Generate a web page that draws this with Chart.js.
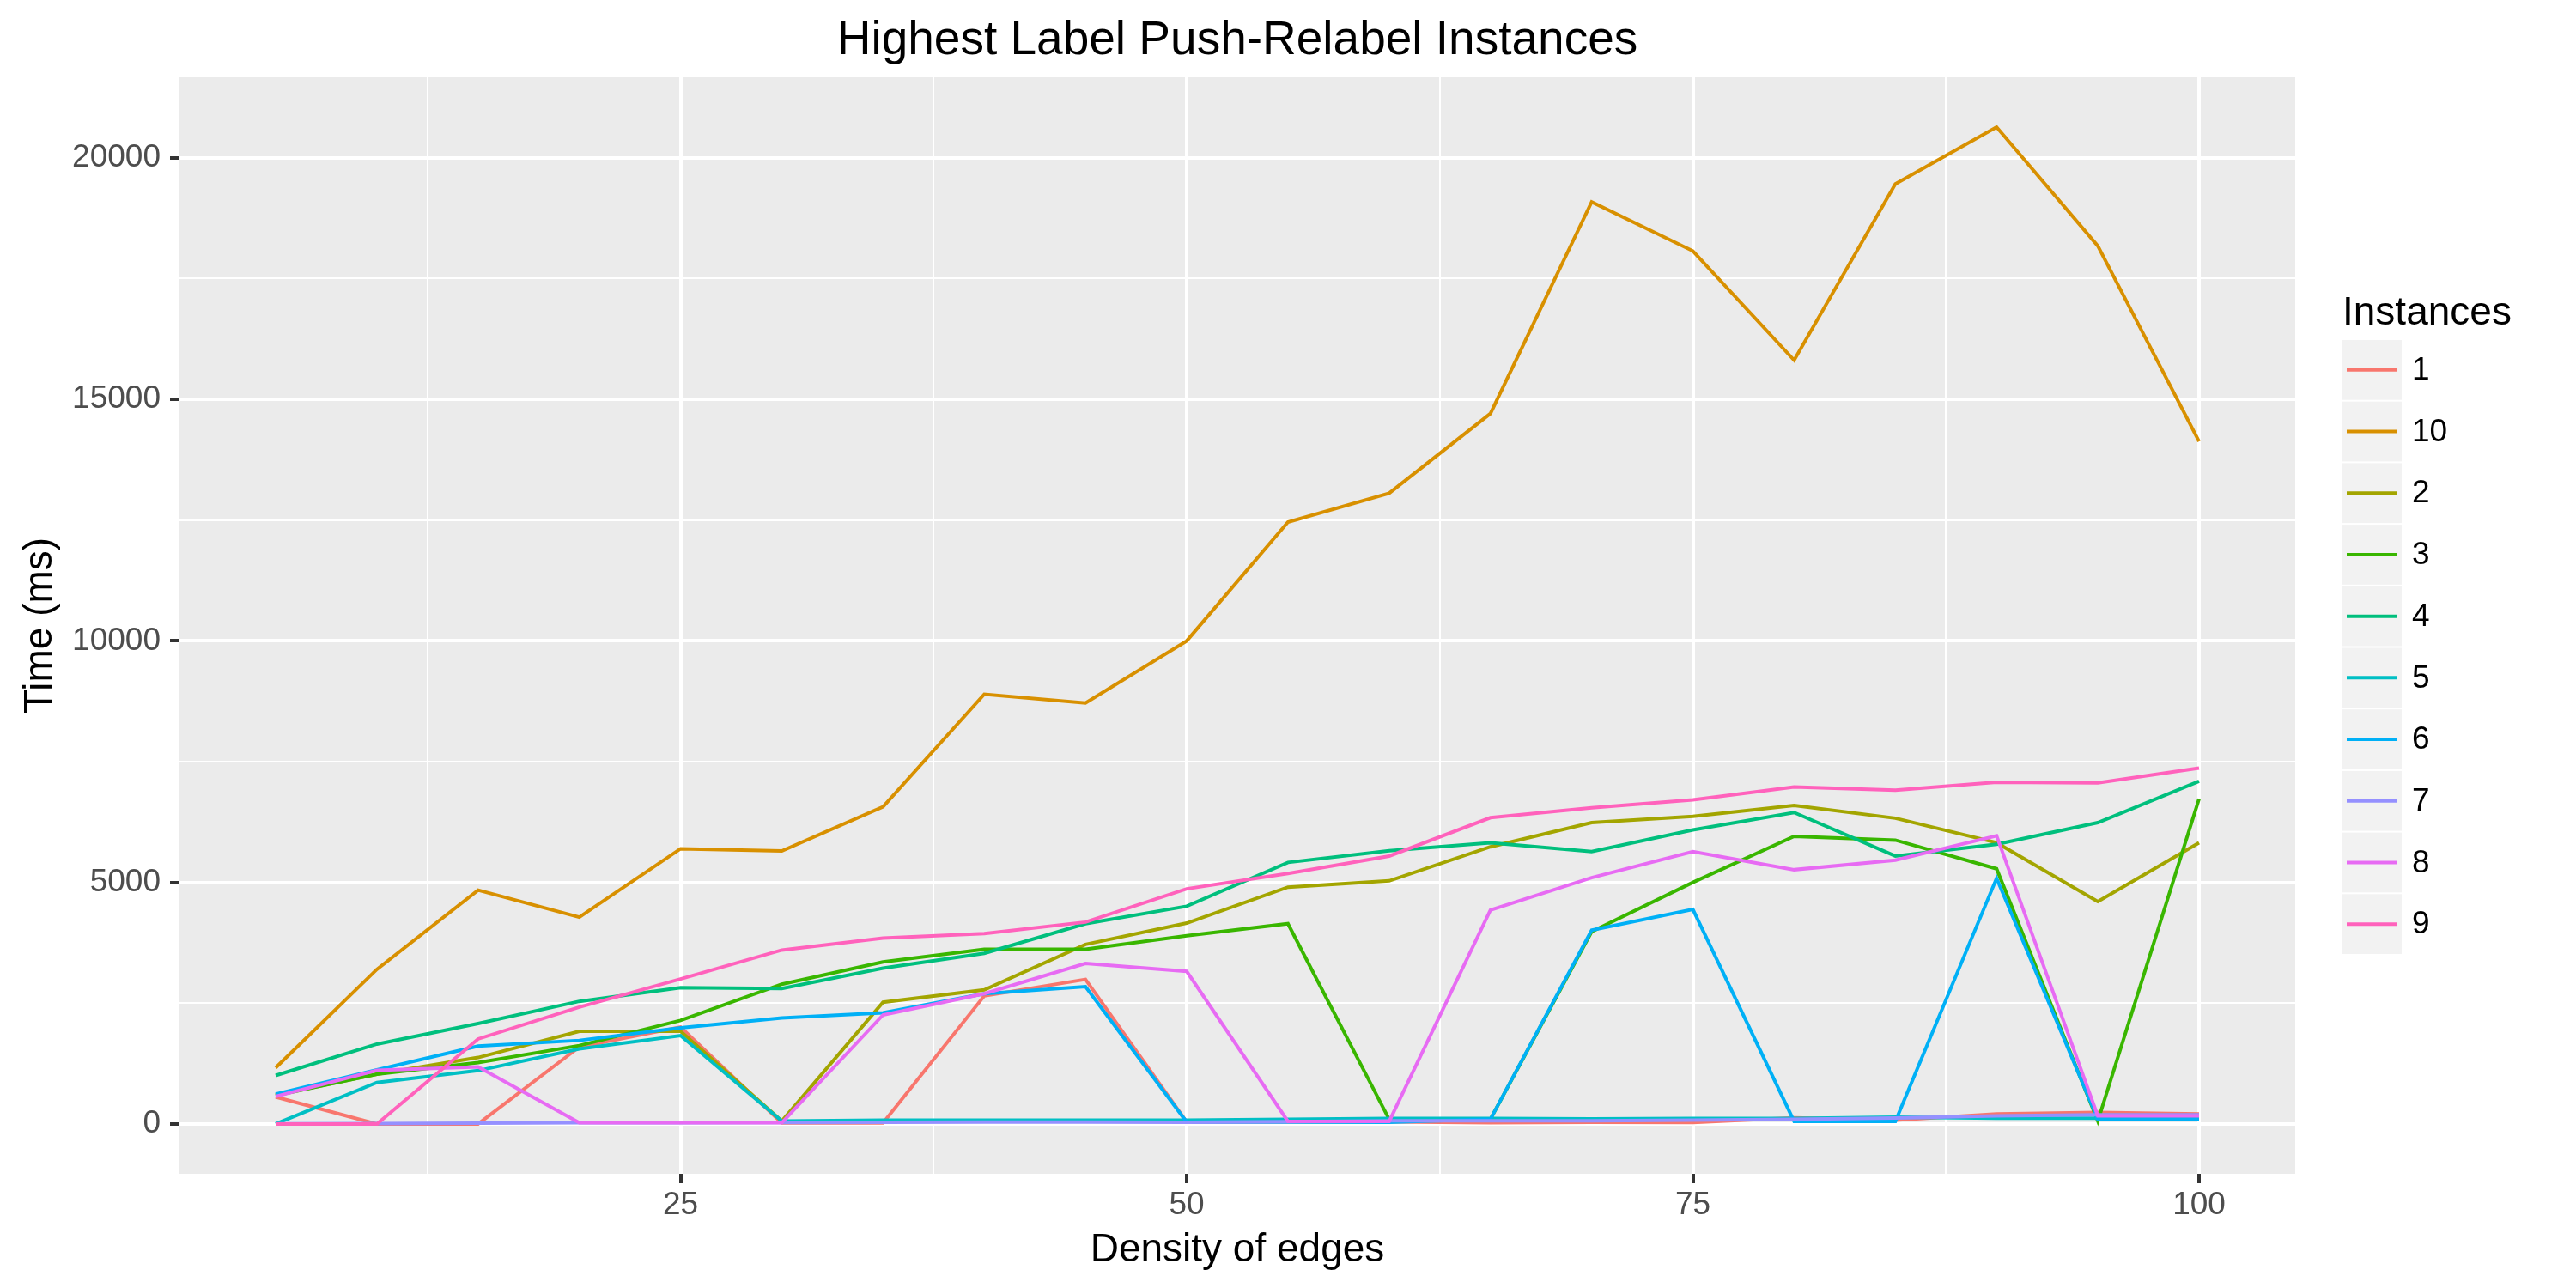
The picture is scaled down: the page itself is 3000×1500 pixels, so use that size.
<!DOCTYPE html>
<html>
<head>
<meta charset="utf-8">
<script src="https://cdn.jsdelivr.net/npm/chart.js@4.4.1/dist/chart.umd.min.js"></script>
<style>
  html, body { margin: 0; padding: 0; background: #fff; }
  #chart { display: block; }
</style>
</head>
<body>
<canvas id="chart" width="3000" height="1500"></canvas>
<script>
// density of edges (x axis)
const density = [5, 10, 15, 20, 25, 30, 35, 40, 45, 50, 55, 60, 65, 70, 75, 80, 85, 90, 95, 100];

// time in ms per instance
const inst1  = [560, 0, 0, 1594, 2007, 20, 20, 2651, 2993, 40, 45, 45, 25, 35, 30, 130, 80, 210, 240, 210];
const inst10 = [1163, 3200, 4840, 4280, 5697, 5650, 6566, 8895, 8715, 10000, 12460, 13056, 14706, 19087, 18071, 15810, 19460, 20635, 18175, 14127];
const inst2  = [600, 1030, 1375, 1918, 1918, 60, 2520, 2776, 3717, 4158, 4901, 5033, 5737, 6237, 6368, 6592, 6329, 5822, 4605, 5822];
const inst3  = [590, 1030, 1270, 1623, 2143, 2893, 3355, 3618, 3618, 3895, 4145, 95, 100, 3980, 5000, 5954, 5875, 5283, 60, 6730];
const inst4  = [1003, 1653, 2078, 2538, 2822, 2804, 3224, 3533, 4145, 4507, 5414, 5658, 5822, 5638, 6086, 6447, 5546, 5789, 6237, 7092];
const inst5  = [0, 857, 1104, 1553, 1830, 60, 77, 77, 77, 77, 95, 113, 113, 105, 113, 113, 143, 119, 119, 119];
const inst6  = [620, 1120, 1611, 1730, 1990, 2196, 2303, 2697, 2842, 40, 40, 35, 100, 4013, 4441, 54, 54, 5086, 95, 95];
const inst7  = [5, 10, 15, 25, 25, 30, 35, 38, 40, 35, 48, 65, 65, 65, 77, 95, 125, 170, 190, 190];
const inst8  = [570, 1110, 1180, 25, 25, 25, 2257, 2697, 3322, 3158, 54, 54, 4428, 5099, 5638, 5263, 5461, 5967, 167, 167];
const inst9  = [0, 0, 1760, 2420, 3000, 3600, 3849, 3941, 4178, 4868, 5184, 5546, 6340, 6546, 6711, 6974, 6908, 7072, 7059, 7368];

// legend order is ggplot's alphabetical factor order
const instNames  = ["1", "10", "2", "3", "4", "5", "6", "7", "8", "9"];
const instSeries = [inst1, inst10, inst2, inst3, inst4, inst5, inst6, inst7, inst8, inst9];
const instColors = ["#F8766D", "#D89000", "#A3A500", "#39B600", "#00BF7D",
                    "#00BFC4", "#00B0F6", "#9590FF", "#E76BF3", "#FF62BC"];

const xTicks = [25, 50, 75, 100];
const xMinor = [12.5, 37.5, 62.5, 87.5];
const yTicks = [0, 5000, 10000, 15000, 20000];
const yMinor = [2500, 7500, 12500, 17500];

const FONT = "'Liberation Sans', Arial, sans-serif";

// ggplot default expansion: 5% of the range on each side
const allY = instSeries.flat();
const yLo = Math.min(...allY), yHi = Math.max(...allY);
const yPad = (yHi - yLo) * 0.05;
const xLo = Math.min(...density), xHi = Math.max(...density);
const xPad = (xHi - xLo) * 0.05;

const ggTheme = {
  id: "ggTheme",
  beforeDraw(chart) {
    const { ctx, chartArea: a } = chart;
    ctx.save();
    ctx.fillStyle = "#EBEBEB";
    ctx.fillRect(a.left, a.top, a.right - a.left, a.bottom - a.top);
    ctx.restore();
  },
  afterDraw(chart) {
    const { ctx, chartArea: a } = chart;
    ctx.save();

    // title, centred over the panel
    ctx.fillStyle = "#000";
    ctx.font = "55px " + FONT;
    ctx.textAlign = "center";
    ctx.textBaseline = "alphabetic";
    ctx.fillText("Highest Label Push-Relabel Instances", (a.left + a.right) / 2, 63);

    // legend
    const keyX = a.right + 55, keyTop = 396, pitch = 71.7, keyW = 69;
    ctx.textAlign = "left";
    ctx.font = "46px " + FONT;
    ctx.fillText("Instances", keyX, 378);

    ctx.font = "37px " + FONT;
    ctx.textBaseline = "middle";
    instNames.forEach((name, i) => {
      const y = keyTop + i * pitch;
      ctx.fillStyle = "#F2F2F2";
      ctx.fillRect(keyX, y, keyW, pitch - 2);
      ctx.strokeStyle = instColors[i];
      ctx.lineWidth = 4;
      ctx.beginPath();
      ctx.moveTo(keyX + 5, y + (pitch - 2) / 2);
      ctx.lineTo(keyX + keyW - 5, y + (pitch - 2) / 2);
      ctx.stroke();
      ctx.fillStyle = "#000";
      ctx.fillText(name, keyX + 81, y + (pitch - 2) / 2 + 1);
    });
    ctx.restore();
  }
};

const datasets = instNames.map((name, i) => ({
  label: name,
  data: density.map((d, j) => ({ x: d, y: instSeries[i][j] })),
  borderColor: instColors[i],
  backgroundColor: instColors[i],
  borderWidth: 4,
  pointRadius: 0,
  tension: 0,
  fill: false,
  order: instNames.length - 1 - i   // last level drawn on top, like ggplot
}));

new Chart(document.getElementById("chart"), {
  type: "line",
  data: { datasets },
  plugins: [ggTheme],
  options: {
    responsive: false,
    devicePixelRatio: 1,
    animation: false,
    events: [],
    layout: { padding: { left: 0, right: 327, top: 90, bottom: 0 } },
    plugins: {
      legend: { display: false },
      title: { display: false },
      tooltip: { enabled: false }
    },
    scales: {
      x: {
        type: "linear",
        min: xLo - xPad,
        max: xHi + xPad,
        afterFit(scale) { scale.height = 133; },
        afterBuildTicks(scale) {
          scale.ticks = xMinor.concat(xTicks).sort((p, q) => p - q).map(v => ({ value: v }));
        },
        border: { display: false },
        grid: {
          color: "#FFFFFF",
          lineWidth: c => (c.tick && xTicks.includes(c.tick.value)) ? 4 : 2,
          tickLength: 11,
          tickWidth: 4,
          tickColor: c => (c.tick && xTicks.includes(c.tick.value)) ? "#333333" : "rgba(0,0,0,0)"
        },
        ticks: {
          autoSkip: false,
          maxRotation: 0,
          padding: 4,
          color: "#4D4D4D",
          font: { family: FONT, size: 37 },
          callback: v => xTicks.includes(v) ? String(v) : ""
        },
        title: {
          display: true,
          text: "Density of edges",
          color: "#000",
          font: { family: FONT, size: 46 },
          padding: { top: 0, bottom: 16 }
        }
      },
      y: {
        type: "linear",
        min: yLo - yPad,
        max: yHi + yPad,
        afterFit(scale) { scale.width = 209; },
        afterBuildTicks(scale) {
          scale.ticks = yMinor.concat(yTicks).sort((p, q) => p - q).map(v => ({ value: v }));
        },
        border: { display: false },
        grid: {
          color: "#FFFFFF",
          lineWidth: c => (c.tick && yTicks.includes(c.tick.value)) ? 4 : 2,
          tickLength: 11,
          tickWidth: 4,
          tickColor: c => (c.tick && yTicks.includes(c.tick.value)) ? "#333333" : "rgba(0,0,0,0)"
        },
        ticks: {
          autoSkip: false,
          padding: 11,
          color: "#4D4D4D",
          font: { family: FONT, size: 37 },
          callback: v => yTicks.includes(v) ? String(v) : ""
        },
        title: {
          display: true,
          text: "Time (ms)",
          color: "#000",
          font: { family: FONT, size: 46 },
          padding: { top: 20, bottom: 0 }
        }
      }
    }
  }
});
</script>
</body>
</html>
